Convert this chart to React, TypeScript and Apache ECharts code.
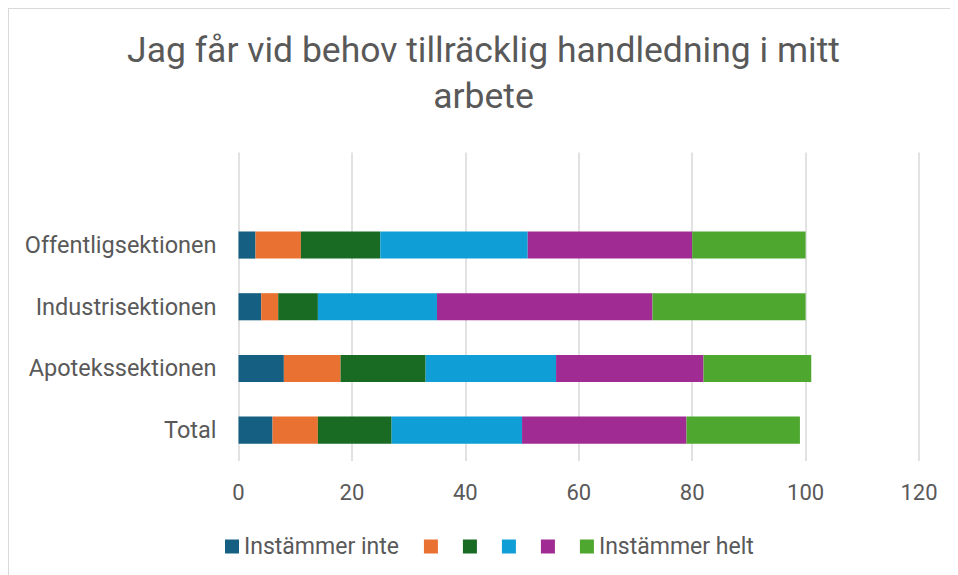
import React, { useEffect, useRef } from "react";
import * as echarts from "echarts";

const categories = ["Total", "Apotekssektionen", "Industrisektionen", "Offentligsektionen", ""];
const seriesNames = ["Instämmer inte", "s2", "s3", "s4", "s5", "Instämmer helt"];
const legendLabels = ["Instämmer inte", "", "", "", "", "Instämmer helt"];
const colors = ["#156082", "#E97132", "#196B24", "#0F9ED5", "#A02B93", "#4EA72E"];
// values per series, ordered like categories (Total, Apotek, Industri, Offentlig, empty)
const s1 = [6, 8, 4, 3, null];
const s2 = [8, 10, 3, 8, null];
const s3 = [13, 15, 7, 14, null];
const s4 = [23, 23, 21, 26, null];
const s5 = [29, 26, 38, 29, null];
const s6 = [20, 19, 27, 20, null];
const seriesValues = [s1, s2, s3, s4, s5, s6];
const xTicks = { min: 0, max: 120, interval: 20 };

const FONT = "Roboto, 'Noto Sans', sans-serif";
const TEXT = "#595959";

export default function App() {
  const ref = useRef<HTMLDivElement>(null);
  useEffect(() => {
    if (!ref.current) return;
    const chart = echarts.init(ref.current, undefined, { renderer: "svg" });
    chart.setOption({
      animation: false,
      backgroundColor: "#ffffff",
      textStyle: { fontFamily: FONT },
      title: {
        text: "Jag får vid behov tillräcklig handledning i mitt\narbete",
        left: "center",
        top: 13,
        textStyle: {
          fontFamily: FONT,
          fontSize: 35.5,
          fontWeight: "normal",
          color: TEXT,
          lineHeight: 46,
        },
      },
      legend: {
        data: seriesNames,
        top: 521,
        left: 211,
        icon: "rect",
        itemWidth: 14,
        itemHeight: 14,
        itemGap: 25,
        formatter: (name: string) => legendLabels[seriesNames.indexOf(name)],
        textStyle: { fontFamily: FONT, fontSize: 23, color: TEXT },
      },
      grid: { left: 229.5, right: 39, top: 143.5, bottom: 114 },
      xAxis: {
        type: "value",
        min: xTicks.min,
        max: xTicks.max,
        interval: xTicks.interval,
        axisLine: { show: false },
        axisTick: { show: false },
        axisLabel: { fontFamily: FONT, fontSize: 22, color: TEXT, margin: 20 },
        splitLine: { show: true, lineStyle: { color: "#d9d9d9", width: 1.5 } },
      },
      yAxis: {
        type: "category",
        data: categories,
        axisLine: { show: false },
        axisTick: { show: false },
        axisLabel: { fontFamily: FONT, fontSize: 23.5, color: TEXT, margin: 22 },
        splitLine: { show: false },
      },
      series: seriesNames.map((name, i) => ({
        name,
        type: "bar",
        stack: "total",
        data: seriesValues[i],
        barCategoryGap: "56%",
        itemStyle: { color: colors[i] },
      })),
    });
    return () => chart.dispose();
  }, []);
  return (
    <div
      style={{
        width: 950,
        height: 567,
        boxSizing: "border-box",
        borderLeft: "1px solid #d9d9d9",
        borderTop: "1px solid #d9d9d9",
        background: "#fff",
      }}
    >
      <div ref={ref} style={{ width: 949, height: 566 }} />
    </div>
  );
}
